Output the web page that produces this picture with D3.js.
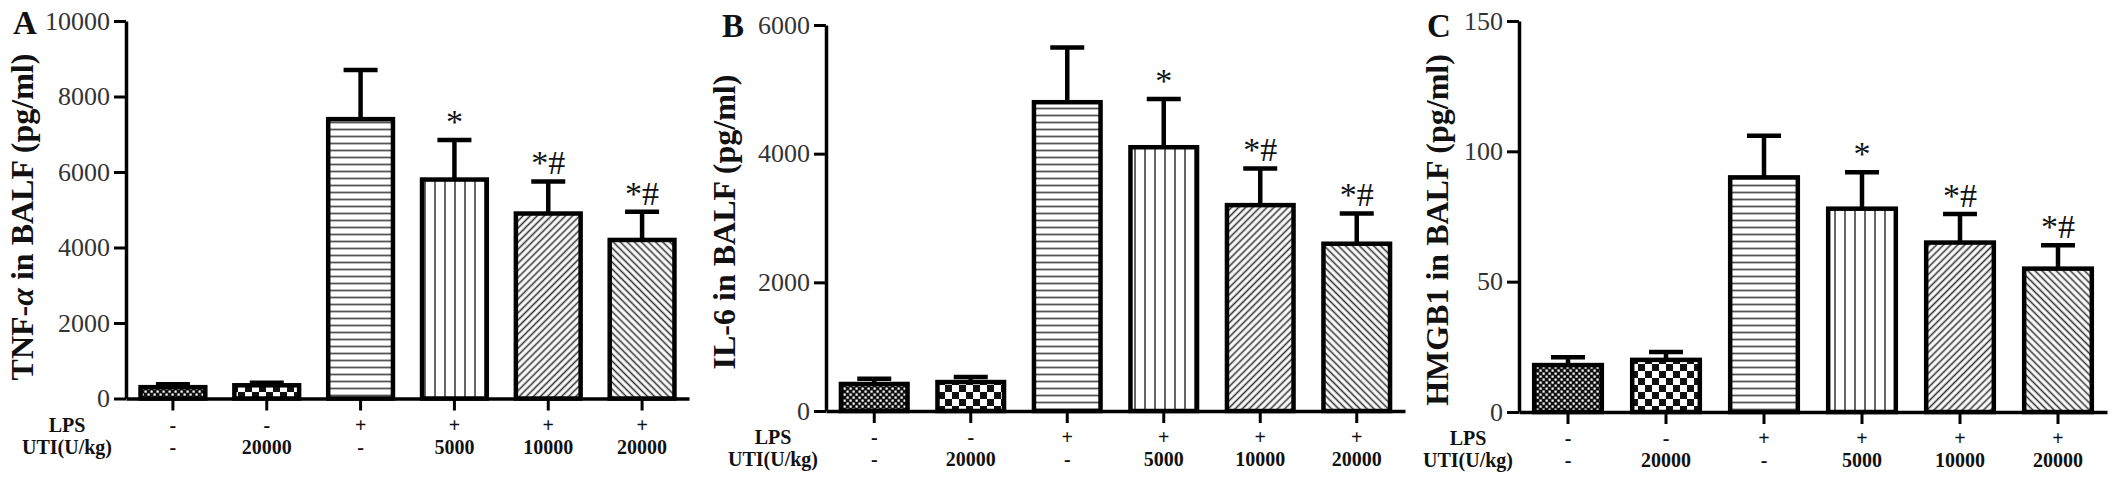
<!DOCTYPE html>
<html lang="en">
<head>
  <meta charset="UTF-8">
  <title>BALF cytokines</title>
  <style>
    html, body { margin: 0; padding: 0; background: #fff; }
    svg { display: block; }
    text { font-family: "Liberation Serif", "Times New Roman", serif; }
  </style>
</head>
<body>
  <script src="https://cdn.jsdelivr.net/npm/d3@7/dist/d3.min.js"></script>
  <script>
    // groups and the two label rows under each panel
    const groups = ['ctrl', 'uti20000', 'lps', 'lps_uti5000', 'lps_uti10000', 'lps_uti20000'];
    const lpsRow = ['-', '-', '+', '+', '+', '+'];
    const utiRow = ['-', '20000', '-', '5000', '10000', '20000'];
    const sigMarks = ['', '', '', '*', '*#', '*#'];

    // means and SD (upper error bar only)
    const tnfMean = [300, 350, 7400, 5800, 4900, 4200];
    const tnfSD = [80, 70, 1300, 1050, 850, 750];
    const il6Mean = [420, 450, 4800, 4100, 3200, 2600];
    const il6SD = [80, 80, 850, 750, 570, 470];
    const hmgbMean = [18, 20, 90, 78, 65, 55];
    const hmgbSD = [3, 3, 16, 14, 11, 9];

    const tnfTicks = [0, 2000, 4000, 6000, 8000, 10000];
    const il6Ticks = [0, 2000, 4000, 6000];
    const hmgbTicks = [0, 50, 100, 150];

    const fills = ['fine', 'check', 'hlines', 'vlines', 'diagR', 'diagL'];

    let width = 2126;
    let height = 484;
    let svg = d3.select('body')
                .append('svg')
                .attr('width', width)
                .attr('height', height);

    svg.append('rect').attr('width', width).attr('height', height).attr('fill', '#fff');

    // patterns
    let defs = svg.append('defs');
    let p;
    p = defs.append('pattern').attr('id', 'fine').attr('patternUnits', 'userSpaceOnUse')
            .attr('width', 6).attr('height', 6);
    p.append('rect').attr('width', 6).attr('height', 6).attr('fill', '#111');
    p.append('rect').attr('x', 0.5).attr('y', 0.5).attr('width', 2.2).attr('height', 2.2).attr('fill', '#fff');
    p.append('rect').attr('x', 3.5).attr('y', 3.5).attr('width', 2.2).attr('height', 2.2).attr('fill', '#fff');

    p = defs.append('pattern').attr('id', 'check').attr('patternUnits', 'userSpaceOnUse')
            .attr('width', 14).attr('height', 14);
    p.append('rect').attr('width', 14).attr('height', 14).attr('fill', '#fff');
    p.append('rect').attr('width', 7).attr('height', 7).attr('fill', '#111');
    p.append('rect').attr('x', 7).attr('y', 7).attr('width', 7).attr('height', 7).attr('fill', '#111');

    p = defs.append('pattern').attr('id', 'hlines').attr('patternUnits', 'userSpaceOnUse')
            .attr('width', 10).attr('height', 7);
    p.append('rect').attr('width', 10).attr('height', 7).attr('fill', '#fff');
    p.append('line').attr('x1', 0).attr('x2', 10).attr('y1', 3.5).attr('y2', 3.5)
     .attr('stroke', '#555').attr('stroke-width', 1.8);

    p = defs.append('pattern').attr('id', 'vlines').attr('patternUnits', 'userSpaceOnUse')
            .attr('width', 10).attr('height', 10);
    p.append('rect').attr('width', 10).attr('height', 10).attr('fill', '#fff');
    p.append('line').attr('x1', 5).attr('x2', 5).attr('y1', 0).attr('y2', 10)
     .attr('stroke', '#555').attr('stroke-width', 1.8);

    [['diagR', 45], ['diagL', -45]].forEach(function(d) {
      let q = defs.append('pattern').attr('id', d[0]).attr('patternUnits', 'userSpaceOnUse')
                  .attr('width', 5).attr('height', 5)
                  .attr('patternTransform', 'rotate(' + d[1] + ')');
      q.append('rect').attr('width', 5).attr('height', 5).attr('fill', '#fff');
      q.append('line').attr('x1', 2.5).attr('x2', 2.5).attr('y1', 0).attr('y2', 5)
       .attr('stroke', '#333').attr('stroke-width', 1.6);
    });

    const panels = [
      { letter: 'A', title: ['TNF-', 'α', ' in BALF (pg/ml)'], mean: tnfMean, sd: tnfSD, ticks: tnfTicks,
        x0: 126, x1: 689, y0: 398.5, y1: 21, titleX: 33, titleY: 217, letterX: 13, letterY: 34, rowX: 67 },
      { letter: 'B', title: ['IL-6 in BALF (pg/ml)'], mean: il6Mean, sd: il6SD, ticks: il6Ticks,
        x0: 826, x1: 1405, y0: 411, y1: 25, titleX: 735, titleY: 222, letterX: 722, letterY: 37, rowX: 773 },
      { letter: 'C', title: ['HMGB1 in BALF (pg/ml)'], mean: hmgbMean, sd: hmgbSD, ticks: hmgbTicks,
        x0: 1519, x1: 2107, y0: 412, y1: 21, titleX: 1448, titleY: 230, letterX: 1427, letterY: 37, rowX: 1468 }
    ];

    panels.forEach(function(pn) {
      let g = svg.append('g');
      let x = d3.scaleBand().domain(groups).range([pn.x0, pn.x1]).paddingInner(0.31).paddingOuter(0.155);
      let y = d3.scaleLinear().domain([0, d3.max(pn.ticks)]).range([pn.y0, pn.y1]);

      let rows = groups.map(function(k, i) {
        return { key: k, mean: pn.mean[i], sd: pn.sd[i], fill: fills[i], mark: sigMarks[i] };
      });

      // error bars (upper half only)
      let eb = g.selectAll('.eb').data(rows).enter().append('g');
      eb.append('line')
        .attr('x1', d => x(d.key) + x.bandwidth() / 2)
        .attr('x2', d => x(d.key) + x.bandwidth() / 2)
        .attr('y1', d => y(d.mean))
        .attr('y2', d => y(d.mean + d.sd))
        .attr('stroke', '#000').attr('stroke-width', 4.5);
      eb.append('line')
        .attr('x1', d => x(d.key) + x.bandwidth() / 2 - 17)
        .attr('x2', d => x(d.key) + x.bandwidth() / 2 + 17)
        .attr('y1', d => y(d.mean + d.sd))
        .attr('y2', d => y(d.mean + d.sd))
        .attr('stroke', '#000').attr('stroke-width', 4.5);

      // bars
      g.selectAll('.bar').data(rows).enter().append('rect')
        .attr('x', d => x(d.key))
        .attr('y', d => y(d.mean))
        .attr('width', x.bandwidth())
        .attr('height', d => pn.y0 - y(d.mean))
        .attr('fill', d => 'url(#' + d.fill + ')')
        .attr('stroke', '#000')
        .attr('stroke-width', 4.5);

      // significance marks
      g.selectAll('.sig').data(rows.filter(d => d.mark)).enter().append('text')
        .attr('x', d => x(d.key) + x.bandwidth() / 2)
        .attr('y', d => y(d.mean + d.sd) - 7)
        .attr('text-anchor', 'middle')
        .attr('font-size', 34)
        .attr('fill', '#111')
        .text(d => d.mark);

      // y axis
      let yAxis = d3.axisLeft(y).tickValues(pn.ticks).tickFormat(d3.format('d'))
                    .tickSize(12).tickPadding(4).tickSizeOuter(0);
      let ya = g.append('g').attr('transform', 'translate(' + pn.x0 + ',0)').call(yAxis);
      ya.select('.domain').attr('stroke', '#000').attr('stroke-width', 3.5);
      ya.selectAll('.tick line').attr('stroke', '#000').attr('stroke-width', 3);
      ya.selectAll('.tick text').attr('font-size', 26).attr('fill', '#333')
        .attr('font-family', '"Liberation Serif", serif');

      // x axis
      let xAxis = d3.axisBottom(x).tickSize(12).tickSizeOuter(0).tickFormat('');
      let xa = g.append('g').attr('transform', 'translate(0,' + pn.y0 + ')').call(xAxis);
      xa.select('.domain').attr('stroke', '#000').attr('stroke-width', 3.5);
      xa.selectAll('.tick line').attr('stroke', '#000').attr('stroke-width', 3);

      // LPS / UTI rows
      [['LPS', lpsRow, 33], ['UTI(U/kg)', utiRow, 55]].forEach(function(r) {
        g.append('text')
          .attr('x', pn.rowX).attr('y', pn.y0 + r[2])
          .attr('text-anchor', 'middle').attr('font-weight', 'bold').attr('font-size', 20)
          .attr('fill', '#111')
          .text(r[0]);
        g.selectAll(null).data(groups).enter().append('text')
          .attr('x', d => x(d) + x.bandwidth() / 2)
          .attr('y', pn.y0 + r[2])
          .attr('text-anchor', 'middle').attr('font-weight', 'bold').attr('font-size', 20)
          .attr('fill', '#111')
          .text((d, i) => r[1][i]);
      });

      // y title
      let t = g.append('text')
        .attr('transform', 'translate(' + pn.titleX + ',' + pn.titleY + ') rotate(-90)')
        .attr('text-anchor', 'middle').attr('font-weight', 'bold').attr('font-size', 32)
        .attr('fill', '#111');
      pn.title.forEach(function(s) {
        let ts = t.append('tspan').text(s);
        if (s === 'α') ts.attr('font-style', 'italic');
      });

      // panel letter
      g.append('text')
        .attr('x', pn.letterX).attr('y', pn.letterY)
        .attr('font-weight', 'bold').attr('font-size', 33)
        .attr('fill', '#111')
        .text(pn.letter);
    });
  </script>
</body>
</html>
